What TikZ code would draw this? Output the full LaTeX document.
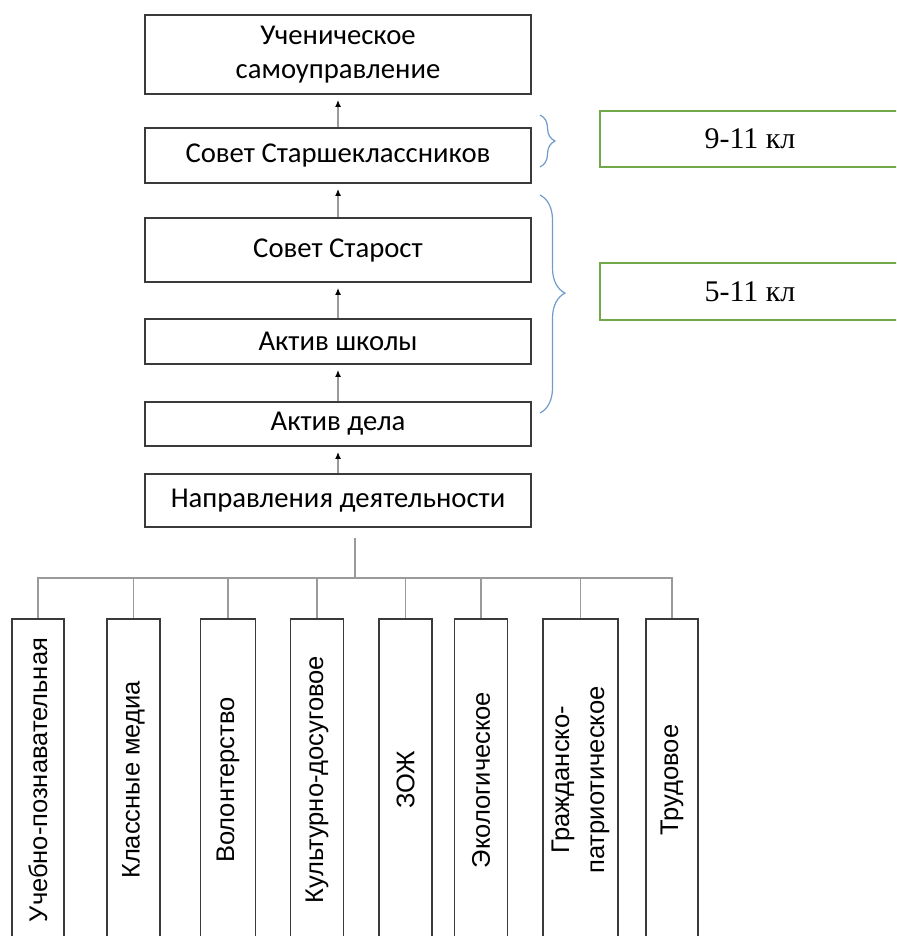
\documentclass[tikz,border=0pt]{standalone}
\usepackage{fontspec}
\setmainfont{Carlito}
\newfontfamily\arialfont{Liberation Sans}
\newfontfamily\timesfont{Liberation Serif}
\usepackage{xcolor}
\usepackage{tikz}
\usetikzlibrary{arrows.meta,decorations.pathreplacing}

\definecolor{boxgray}{HTML}{3A3A3A}
\definecolor{linegray}{HTML}{9A9A9A}
\definecolor{kgreen}{HTML}{70A84A}
\definecolor{braceblue}{HTML}{6F9CCB}

\tikzset{
  level/.style={draw=boxgray, line width=1.8pt, minimum width=386pt, inner sep=0pt,
    align=center, font=\fontsize{28.7}{34}\selectfont},
  grade/.style={draw=kgreen, line width=2pt, minimum width=300pt, inner sep=0pt,
    font=\timesfont\fontsize{30}{34}\selectfont},
  branch/.style={draw=boxgray, line width=1.6pt, rotate=90, minimum width=322pt, inner sep=0pt,
    align=center, font=\arialfont\fontsize{25.5}{35}\selectfont},
  uparrow/.style={draw=linegray, line width=1.5pt, -{Latex[black,length=7pt,width=6pt]}, shorten >=5pt},
  treeline/.style={draw=linegray, line width=1.6pt},
  grp/.style={draw=braceblue, line width=1.2pt, decorate}
}

\begin{document}
\begin{tikzpicture}[x=1pt,y=-1pt]
\path[use as bounding box, clip] (0,0) rectangle (896,936);

\node[level, minimum height=79pt] (self) at (338,54.5) {Ученическое\\самоуправление};
\node[level, minimum height=55pt] (senior) at (338,155.5) {Совет Старшеклассников};
\node[level, minimum height=64pt] (heads) at (338,250) {Совет Старост};
\node[level, minimum height=45pt] (school) at (338,341.5) {Актив школы};
\node[level, minimum height=44pt] (deal) at (338,424) {Актив дела};
\node[level, minimum height=53pt] (dirs) at (338,500.5) {Направления деятельности};

\draw[uparrow] (senior) -- (self);
\draw[uparrow] (heads) -- (senior);
\draw[uparrow] (school) -- (heads);
\draw[uparrow] (deal) -- (school);
\draw[uparrow] (dirs) -- (deal);

\node[grade, minimum height=56pt] (upper) at (750,139) {9-11 кл};
\node[grade, minimum height=57pt] (middle) at (750,291.5) {5-11 кл};

\draw[grp, decoration={brace, amplitude=15pt}] (540,115) -- (540,167);
\draw[grp, decoration={brace, amplitude=25pt, aspect=0.45}] (540,195) -- (540,413);

\node[branch, minimum height=52pt] (study) at (38,780) {Учебно-познавательная};
\node[branch, minimum height=53pt] (media) at (133.5,780) {Классные медиа};
\node[branch, minimum height=55pt] (volunteer) at (228,780) {Волонтерство};
\node[branch, minimum height=53pt] (culture) at (317,780) {Культурно-досуговое};
\node[branch, minimum height=53pt] (health) at (405.5,780) {ЗОЖ};
\node[branch, minimum height=53pt] (eco) at (481,780) {Экологическое};
\node[branch, minimum height=75pt] (civic) at (580.5,780) {Гражданско-\\патриотическое};
\node[branch, minimum height=52pt] (labour) at (672,780) {Трудовое};

\coordinate (hub) at (355,538);
\coordinate (bar) at (355,578);
\draw[treeline] (hub) -- (bar);
\draw[treeline] (bar) -| (study.east);
\draw[treeline] (bar) -| (media.east);
\draw[treeline] (bar) -| (volunteer.east);
\draw[treeline] (bar) -| (culture.east);
\draw[treeline] (bar) -| (health.east);
\draw[treeline] (bar) -| (eco.east);
\draw[treeline] (bar) -| (civic.east);
\draw[treeline] (bar) -| (labour.east);
\end{tikzpicture}
\end{document}
